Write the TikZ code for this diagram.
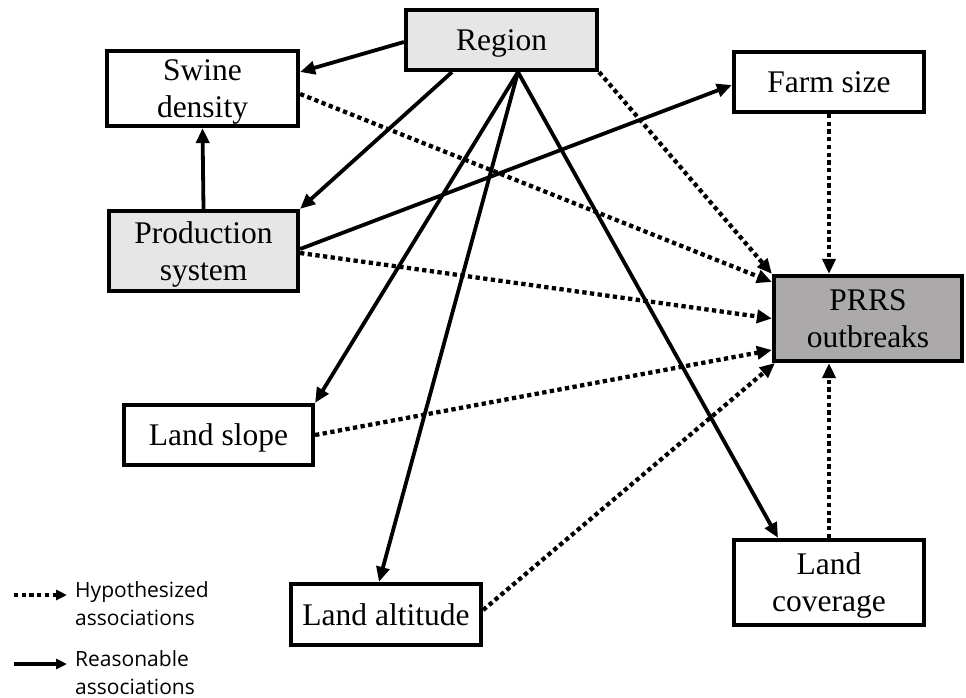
\documentclass[tikz,border=0pt]{standalone}
\usepackage{fontspec}
\setmainfont{Liberation Serif}
\newfontfamily\legendfont{Open Sans}
\usetikzlibrary{arrows.meta,calc}
\definecolor{lightfill}{RGB}{230,230,230}
\definecolor{darkfill}{RGB}{171,169,169}
\tikzset{
  box/.style={draw=black, line width=4.2pt, fill=white, inner sep=0pt, align=center,
    text depth=0pt, font=\fontsize{31.5}{37}\selectfont},
  reason/.style={line width=3.8pt, -{Triangle[length=15pt,width=13pt]}},
  hypo/.style={line width=4.3pt, dash pattern=on 4.3pt off 3.4pt, -{Triangle[length=15pt,width=13pt]}},
  legtext/.style={anchor=north west, inner sep=0pt, align=left, font=\legendfont\fontsize{21}{28}\selectfont}
}
\begin{document}
\begin{tikzpicture}[x=1pt,y=-1pt]
\useasboundingbox (0,0) rectangle (966,698);
% nodes
\node[box, fill=lightfill, minimum width=191pt, minimum height=60pt] (region) at (501.5,40) {Region};
\node[box, minimum width=191pt, minimum height=75pt] (swine) at (202.5,88.5) {Swine\\density};
\node[box, minimum width=190pt, minimum height=60pt] (farm) at (829,82) {Farm size};
\node[box, fill=lightfill, minimum width=189pt, minimum height=80pt] (prod) at (203.5,251) {Production\\system};
\node[box, fill=darkfill, minimum width=188pt, minimum height=85pt] (prrs) at (868,318.5) {PRRS\\outbreaks};
\node[box, minimum width=189pt, minimum height=60pt] (slope) at (218.5,435) {Land slope};
\node[box, minimum width=190pt, minimum height=61pt] (alt) at (386,614.5) {Land altitude};
\node[box, minimum width=190pt, minimum height=85pt] (cover) at (829,582.5) {Land\\coverage};
% hub coordinate
\coordinate (rhub) at ($(region.south)+(16.5,0)$);
% solid arrows
\draw[reason] ($(region.west)+(0,2)$) -- ($(swine.east)+(0,-16.5)$);
\draw[reason] ($(region.south)+(-49.5,0)$) -- (prod.north east);
\draw[reason] (rhub) -- (slope.north east);
\draw[reason] (rhub) -- ($(alt.north)+(-7,0)$);
\draw[reason] (rhub) -- ($(cover.north)+(-51,0)$);
\draw[reason] (prod.north) -- (swine.south);
\draw[reason] ($(prod.east)+(0,-2)$) -- ($(farm.west)+(0,3)$);
% dotted arrows
\draw[hypo] (region.south east) -- (prrs.north west);
\draw[hypo] ($(swine.east)+(0,5.5)$) -- ($(prrs.west)+(0,-36.5)$);
\draw[hypo] ($(prod.east)+(0,2)$) -- (prrs.west);
\draw[hypo] (farm.south) -- (farm.south |- prrs.north);
\draw[hypo] (slope.east) -- ($(prrs.west)+(0,31.5)$);
\draw[hypo] ($(alt.east)+(0,-4.5)$) -- ($(prrs.south west)+(3,0)$);
\draw[hypo] (cover.north) -- (cover.north |- prrs.south);
% legend
\coordinate (l1a) at (14,595);
\coordinate (l1b) at (67,595);
\coordinate (l2a) at (14,664);
\coordinate (l2b) at (67,664);
\draw[line width=4.3pt, dash pattern=on 4.3pt off 3.4pt, -{Triangle[length=11pt,width=10pt]}] (l1a) -- (l1b);
\draw[line width=4.3pt, -{Triangle[length=11pt,width=10pt]}] (l2a) -- (l2b);
\node[legtext] (leg1) at (75,581) {Hypothesized\\associations};
\node[legtext] (leg2) at (75,650) {Reasonable\\associations};
\end{tikzpicture}
\end{document}
